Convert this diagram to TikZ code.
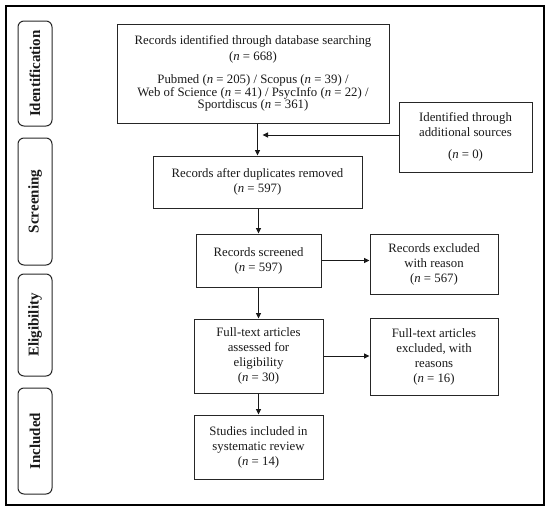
\documentclass[tikz,border=0pt]{standalone}
\usepackage{fontspec}
\setmainfont{Liberation Serif}
\usetikzlibrary{arrows.meta}
\newcommand{\nn}[1]{(\textit{n} = #1)}
\begin{document}
\begin{tikzpicture}[x=1pt,y=-1pt,
  box/.style={draw=black!85, line width=1pt, align=center, inner sep=0pt,
    font=\fontsize{12.8}{15}\selectfont, text=black!90},
  side/.style={draw=black!85, line width=1pt, rounded corners=6pt, rotate=90,
    inner sep=0pt, minimum height=34pt, font=\fontsize{15}{16}\selectfont\bfseries, text=black!90},
  arr/.style={line width=1pt, draw=black!90, -{Triangle[length=5.5pt,width=5pt]}}]
\useasboundingbox (0,0) rectangle (550,512);
\draw[line width=1.8pt] (6,6) rectangle (544,505);

% side labels
\node[side, minimum width=105pt] (sid) at (35,73.5) {Identification};
\node[side, minimum width=127pt] (sscr) at (35,201.5) {Screening};
\node[side, minimum width=102pt] (selig) at (35,325) {Eligibility};
\node[side, minimum width=106pt] (sinc) at (35,441) {Included};

% boxes
\node[box, minimum width=272pt, minimum height=99pt,
  font=\fontsize{12.8}{12.5}\selectfont] (b1) at (253,73.5)
  {Records identified through database searching\\[3.5pt]
   \nn{668}\\[10.5pt]
   Pubmed \nn{205} / Scopus \nn{39} /\\
   Web of Science \nn{41} / PsycInfo \nn{22} /\\
   Sportdiscus \nn{361}};
\node[box, minimum width=133pt, minimum height=70pt] (add) at (465.5,137)
  {Identified through\\ additional sources\\[7pt] \nn{0}};
\node[box, minimum width=209pt, minimum height=52pt] (b2) at (257.5,182)
  {Records after duplicates removed\\ \nn{597}};
\node[box, minimum width=125pt, minimum height=53pt] (b3) at (258.5,260.5)
  {Records screened\\ \nn{597}};
\node[box, minimum width=128pt, minimum height=60pt] (e1) at (434,264)
  {Records excluded\\ with reason\\ \nn{567}};
\node[box, minimum width=129pt, minimum height=74pt] (b4) at (258.5,356)
  {Full-text articles\\ assessed for\\ eligibility\\ \nn{30}};
\node[box, minimum width=128pt, minimum height=77pt] (e2) at (434,356.5)
  {Full-text articles\\ excluded, with\\ reasons\\ \nn{16}};
\node[box, minimum width=129pt, minimum height=64pt] (b5) at (258.5,447)
  {Studies included in\\ systematic review\\ \nn{14}};

% connectors
\coordinate (j) at (262.5,135);
\draw[arr] (b2.north |- b1.south) -- (b2.north);
\draw[arr] (j -| add.west) -- (j);
\draw[arr] (b2.south -| b3.north) -- (b3.north);
\draw[arr] (b3.east) -- (b3.east -| e1.west);
\draw[arr] (b3.south) -- (b4.north);
\draw[arr] (b4.east) -- (b4.east -| e2.west);
\draw[arr] (b4.south) -- (b5.north);
\end{tikzpicture}
\end{document}
